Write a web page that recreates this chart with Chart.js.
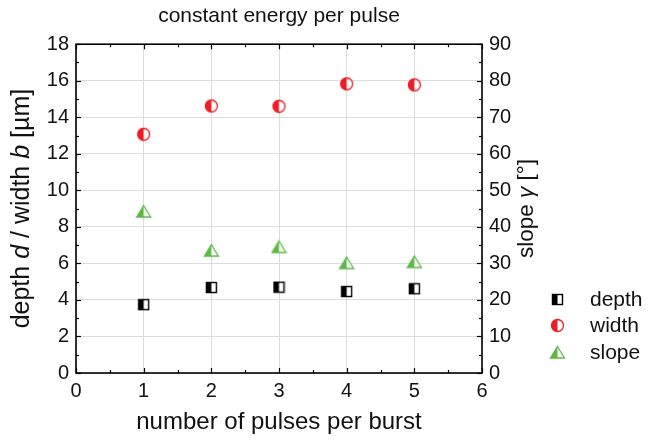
<!DOCTYPE html>
<html>
<head>
<meta charset="utf-8">
<script src="https://cdn.jsdelivr.net/npm/chart.js@4.4.0/dist/chart.umd.min.js"></script>
<style>
    html, body { margin: 0; padding: 0; background: #fff; }
    #wrap { width: 657px; height: 441px; }
</style>
</head>
<body>
<div id="wrap"><canvas id="burstChart" width="657" height="441"></canvas></div>
<script>
// Measured craters for a constant energy per pulse
const pulses = [1, 2, 3, 4, 5];
const depth = [3.74, 4.68, 4.70, 4.46, 4.61];   // µm
const width = [13.07, 14.62, 14.60, 15.83, 15.77]; // µm
const slope = [44.2, 33.5, 34.5, 30.1, 30.4];   // degrees

const FONT = '"Liberation Sans", Arial, sans-serif';
const RED = '#ee1c25';
const GREEN = '#5cb946';

// Half-filled marker images (left half filled, right half white)
function halfSquare() {
    const c = document.createElement('canvas');
    c.width = 13; c.height = 13;
    const g = c.getContext('2d');
    g.fillStyle = '#fff';
    g.fillRect(1.5, 1.5, 10, 10);
    g.fillStyle = '#000';
    g.fillRect(1.5, 1.5, 5, 10);
    g.strokeStyle = '#000';
    g.lineWidth = 1.4;
    g.strokeRect(1.5, 1.5, 10, 10);
    return c;
}

function halfCircle() {
    const c = document.createElement('canvas');
    c.width = 15; c.height = 15;
    const g = c.getContext('2d');
    g.fillStyle = '#fff';
    g.beginPath(); g.arc(7.5, 7.5, 6, 0, Math.PI * 2); g.fill();
    g.fillStyle = RED;
    g.beginPath(); g.arc(7.5, 7.5, 6, Math.PI / 2, Math.PI * 1.5); g.closePath(); g.fill();
    g.strokeStyle = RED;
    g.lineWidth = 1.3;
    g.beginPath(); g.arc(7.5, 7.5, 6, 0, Math.PI * 2); g.stroke();
    return c;
}

function halfTriangle() {
    const c = document.createElement('canvas');
    c.width = 17; c.height = 15;
    const g = c.getContext('2d');
    g.lineJoin = 'miter';
    g.fillStyle = '#fff';
    g.beginPath(); g.moveTo(8.5, 1.5); g.lineTo(15.5, 13); g.lineTo(1.5, 13); g.closePath(); g.fill();
    g.fillStyle = GREEN;
    g.beginPath(); g.moveTo(8.5, 1.5); g.lineTo(8.5, 13); g.lineTo(1.5, 13); g.closePath(); g.fill();
    g.strokeStyle = GREEN;
    g.lineWidth = 1.3;
    g.beginPath(); g.moveTo(8.5, 1.5); g.lineTo(15.5, 13); g.lineTo(1.5, 13); g.closePath(); g.stroke();
    return c;
}

function toPoints(ys) {
    return pulses.map((x, i) => ({ x: x, y: ys[i] }));
}

// Inward major/minor ticks on all four sides plus a closed frame
const frameTicks = {
    id: 'frameTicks',
    afterDraw(chart) {
        const { ctx, chartArea: a, scales } = chart;
        ctx.save();
        ctx.strokeStyle = '#000';
        ctx.lineWidth = 1.2;

        const xs = scales.x;
        for (let v = xs.min; v <= xs.max + 1e-9; v += 0.5) {
            const px = Math.round(xs.getPixelForValue(v)) + 0.5;
            const len = Number.isInteger(v) ? 5 : 3;
            ctx.beginPath();
            ctx.moveTo(px, a.bottom); ctx.lineTo(px, a.bottom - len);
            ctx.moveTo(px, a.top); ctx.lineTo(px, a.top + len);
            ctx.stroke();
        }
        const yl = scales.y;
        for (let v = yl.min; v <= yl.max + 1e-9; v += 1) {
            const py = Math.round(yl.getPixelForValue(v)) + 0.5;
            const len = v % 2 === 0 ? 5 : 3;
            ctx.beginPath();
            ctx.moveTo(a.left, py); ctx.lineTo(a.left + len, py);
            ctx.stroke();
        }
        const yr = scales.y1;
        for (let v = yr.min; v <= yr.max + 1e-9; v += 5) {
            const py = Math.round(yr.getPixelForValue(v)) + 0.5;
            const len = v % 10 === 0 ? 5 : 3;
            ctx.beginPath();
            ctx.moveTo(a.right, py); ctx.lineTo(a.right - len, py);
            ctx.stroke();
        }

        ctx.lineWidth = 1.6;
        ctx.strokeRect(a.left, a.top, a.right - a.left, a.bottom - a.top);
        ctx.restore();
    }
};

// Axis titles with italic symbols
function drawRich(ctx, parts, size) {
    let total = 0;
    parts.forEach(p => {
        ctx.font = (p.italic ? 'italic ' : '') + size + 'px ' + FONT;
        p.w = ctx.measureText(p.text).width;
        total += p.w;
    });
    let x = -total / 2;
    parts.forEach(p => {
        ctx.font = (p.italic ? 'italic ' : '') + size + 'px ' + FONT;
        ctx.fillText(p.text, x, 0);
        x += p.w;
    });
}

const axisTitles = {
    id: 'axisTitles',
    afterDraw(chart) {
        const { ctx, chartArea: a } = chart;
        const midY = (a.top + a.bottom) / 2;
        ctx.save();
        ctx.fillStyle = '#111';
        ctx.textBaseline = 'middle';
        ctx.textAlign = 'left';

        ctx.save();
        ctx.translate(a.left - 54, midY);
        ctx.rotate(-Math.PI / 2);
        drawRich(ctx, [
            { text: 'depth ' }, { text: 'd', italic: true },
            { text: ' / width ' }, { text: 'b', italic: true }, { text: ' [µm]' }
        ], 25);
        ctx.restore();

        ctx.save();
        ctx.translate(a.right + 45, midY);
        ctx.rotate(-Math.PI / 2);
        drawRich(ctx, [
            { text: 'slope ' }, { text: 'γ', italic: true }, { text: ' [°]' }
        ], 22.5);
        ctx.restore();

        ctx.restore();
    }
};

// Legend in the lower right corner, beside the slope axis
const sideLegend = {
    id: 'sideLegend',
    afterDraw(chart) {
        const { ctx, chartArea: a } = chart;
        const markX = a.right + 75;
        const textX = a.right + 108;
        ctx.save();
        ctx.fillStyle = '#111';
        ctx.font = '21px ' + FONT;
        ctx.textBaseline = 'middle';
        ctx.textAlign = 'left';
        chart.data.datasets.forEach((ds, i) => {
            const y = a.bottom - 74 + i * 26.5;
            const img = ds.pointStyle;
            ctx.drawImage(img, Math.round(markX - img.width / 2), Math.round(y - img.height / 2));
            ctx.fillText(ds.label, textX, y + 1);
        });
        ctx.restore();
    }
};

const ctx = document.getElementById('burstChart').getContext('2d');
new Chart(ctx, {
    type: 'scatter',
    data: {
        datasets: [
            { label: 'depth', data: toPoints(depth), yAxisID: 'y', pointStyle: halfSquare() },
            { label: 'width', data: toPoints(width), yAxisID: 'y', pointStyle: halfCircle() },
            { label: 'slope', data: toPoints(slope), yAxisID: 'y1', pointStyle: halfTriangle() }
        ]
    },
    options: {
        responsive: false,
        animation: false,
        layout: { padding: { top: 0, right: 129, bottom: 0, left: 0 } },
        scales: {
            x: {
                type: 'linear',
                min: 0,
                max: 6,
                grid: { color: '#dcdcdc', lineWidth: 1, drawTicks: false },
                border: { display: false },
                ticks: { stepSize: 1, padding: 6, color: '#111', font: { family: FONT, size: 20 } },
                title: {
                    display: true,
                    text: 'number of pulses per burst',
                    color: '#111',
                    font: { family: FONT, size: 24 },
                    padding: { top: 6, bottom: 4 }
                },
                afterFit: s => { s.height = 68; }
            },
            y: {
                position: 'left',
                min: 0,
                max: 18,
                grid: { color: '#dcdcdc', lineWidth: 1, drawTicks: false },
                border: { display: false },
                ticks: { stepSize: 2, padding: 7, color: '#111', font: { family: FONT, size: 20 } },
                afterFit: s => { s.width = 76; }
            },
            y1: {
                position: 'right',
                min: 0,
                max: 90,
                grid: { drawOnChartArea: false, drawTicks: false },
                border: { display: false },
                ticks: { stepSize: 10, padding: 7, color: '#111', font: { family: FONT, size: 20 } },
                afterFit: s => { s.width = 46; }
            }
        },
        plugins: {
            title: {
                display: true,
                text: 'constant energy per pulse',
                color: '#111',
                fullSize: false,
                font: { family: FONT, size: 21, weight: 'normal' },
                padding: { top: 4, bottom: 15 }
            },
            legend: { display: false },
            tooltip: { enabled: false }
        }
    },
    plugins: [frameTicks, axisTitles, sideLegend]
});
</script>
</body>
</html>
